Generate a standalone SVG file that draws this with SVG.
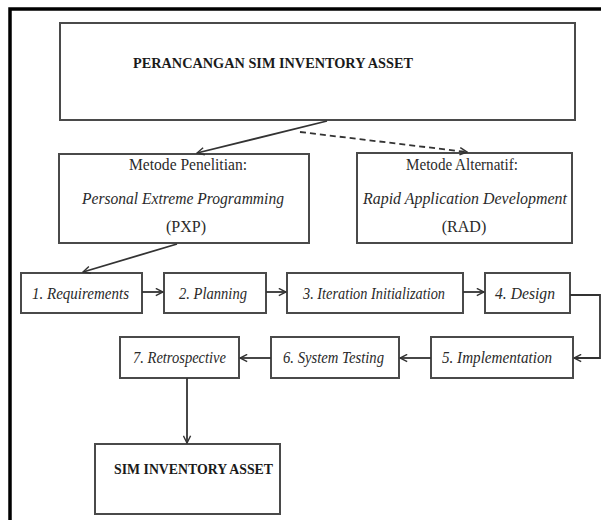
<svg xmlns="http://www.w3.org/2000/svg" width="601" height="520" viewBox="0 0 601 520">
  <style>
    .box { fill: #ffffff; stroke: #4a4a4a; stroke-width: 2; }
    .frame { fill: none; stroke: #000000; stroke-width: 3.5; }
    .title { font-family: "Liberation Serif", "Times New Roman", serif; font-weight: bold; font-size: 14.5px; fill: #1a1a1a; }
    .label { font-family: "Liberation Serif", "Times New Roman", serif; font-size: 16px; fill: #2a2a2a; }
    .step { font-family: "Liberation Serif", "Times New Roman", serif; font-style: italic; font-size: 17px; fill: #2a2a2a; }
    .wire { fill: none; stroke: #333333; stroke-width: 1.8; }
    .dash { stroke-dasharray: 6 4; }
  </style>
  <defs>
    <marker id="open-arrow" viewBox="0 0 10 10" refX="9" refY="5" markerWidth="9" markerHeight="9" markerUnits="userSpaceOnUse" orient="auto">
      <path d="M1,1 L9,5 L1,9" fill="none" stroke="#333333" stroke-width="1.6"/>
    </marker>
  </defs>

  <rect width="601" height="520" fill="#ffffff"/>

  <!-- outer page frame (open on the right and bottom) -->
  <path class="frame" d="M10,520 V9 H601"/>

  <g id="perancangan">
    <rect class="box" x="60" y="23" width="515" height="97"/>
    <text class="title" x="133" y="68" textLength="280" lengthAdjust="spacingAndGlyphs">PERANCANGAN SIM INVENTORY ASSET</text>
  </g>

  <g id="metode-pxp">
    <rect class="box" x="59" y="154" width="250" height="89"/>
    <text class="label" x="188" y="170" text-anchor="middle" textLength="118" lengthAdjust="spacingAndGlyphs">Metode Penelitian:</text>
    <text class="step" x="183" y="204" text-anchor="middle" textLength="202" lengthAdjust="spacingAndGlyphs">Personal Extreme Programming</text>
    <text class="label" x="186" y="232" text-anchor="middle">(PXP)</text>
  </g>

  <g id="metode-rad">
    <rect class="box" x="357" y="153" width="215" height="90"/>
    <text class="label" x="462" y="170" text-anchor="middle" textLength="112" lengthAdjust="spacingAndGlyphs">Metode Alternatif:</text>
    <text class="step" x="465" y="204" text-anchor="middle" textLength="204" lengthAdjust="spacingAndGlyphs">Rapid Application Development</text>
    <text class="label" x="464" y="232" text-anchor="middle">(RAD)</text>
  </g>

  <g id="requirements">
    <rect class="box" x="21" y="273" width="121" height="40"/>
    <text class="step" x="32" y="299" textLength="97" lengthAdjust="spacingAndGlyphs">1.  Requirements</text>
  </g>

  <g id="planning">
    <rect class="box" x="164" y="273" width="102" height="40"/>
    <text class="step" x="179" y="299" textLength="68" lengthAdjust="spacingAndGlyphs">2. Planning</text>
  </g>

  <g id="iteration">
    <rect class="box" x="287" y="273" width="176" height="40"/>
    <text class="step" x="303" y="299" textLength="142" lengthAdjust="spacingAndGlyphs">3. Iteration Initialization</text>
  </g>

  <g id="design">
    <rect class="box" x="485" y="273" width="85" height="40"/>
    <text class="step" x="495" y="299" textLength="60" lengthAdjust="spacingAndGlyphs">4.  Design</text>
  </g>

  <g id="implementation">
    <rect class="box" x="431" y="337" width="142" height="41"/>
    <text class="step" x="442" y="363" textLength="110" lengthAdjust="spacingAndGlyphs">5.  Implementation</text>
  </g>

  <g id="system-testing">
    <rect class="box" x="271" y="337" width="128" height="41"/>
    <text class="step" x="283" y="363" textLength="101" lengthAdjust="spacingAndGlyphs">6. System Testing</text>
  </g>

  <g id="retrospective">
    <rect class="box" x="120" y="337" width="119" height="41"/>
    <text class="step" x="133" y="363" textLength="93" lengthAdjust="spacingAndGlyphs">7. Retrospective</text>
  </g>

  <g id="sim-inventory-asset">
    <rect class="box" x="95" y="444" width="185" height="70"/>
    <text class="title" x="114" y="474" textLength="159" lengthAdjust="spacingAndGlyphs">SIM INVENTORY ASSET</text>
  </g>

  <g id="connectors">
    <line class="wire" x1="327" y1="121" x2="197" y2="153" marker-end="url(#open-arrow)"/>
    <line class="wire dash" x1="300" y1="132" x2="467" y2="152" marker-end="url(#open-arrow)"/>
    <line class="wire" x1="177" y1="244" x2="83" y2="272" marker-end="url(#open-arrow)"/>
    <line class="wire" x1="142" y1="292" x2="163" y2="292" marker-end="url(#open-arrow)"/>
    <line class="wire" x1="266" y1="292" x2="286" y2="292" marker-end="url(#open-arrow)"/>
    <line class="wire" x1="463" y1="292" x2="484" y2="292" marker-end="url(#open-arrow)"/>
    <path class="wire" d="M570,295 H600 V358 H574" stroke="#666666" marker-end="url(#open-arrow)"/>
    <line class="wire" x1="431" y1="358" x2="400" y2="358" marker-end="url(#open-arrow)"/>
    <line class="wire" x1="271" y1="358" x2="240" y2="358" marker-end="url(#open-arrow)"/>
    <line class="wire" x1="187" y1="378" x2="187" y2="443" marker-end="url(#open-arrow)"/>
  </g>
</svg>
